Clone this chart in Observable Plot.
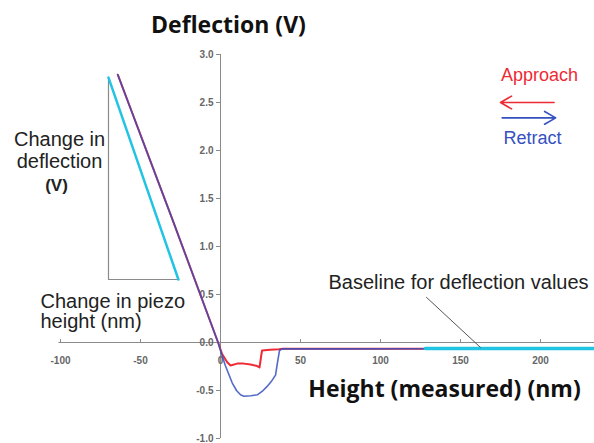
<!DOCTYPE html>
<html>
<head>
<meta charset="utf-8">
<script src="https://cdn.jsdelivr.net/npm/d3@7"></script>
<script src="https://cdn.jsdelivr.net/npm/@observablehq/plot@0.6"></script>
<style>
  html, body { margin: 0; padding: 0; background: #fff; }
  #chart svg { display: block; }
</style>
</head>
<body>
<div id="chart"></div>
<script>
// ---- data ----
const xTicks = [-100, -50, 0, 50, 100, 150, 200];
const xTickLabels = ["-100", "-50", "0", "50", "100", "150", "200"];
const yTicks = [3, 2.5, 2, 1.5, 1, 0.5, 0, -0.5, -1];
const yTickLabels = ["3.0", "2.5", "2.0", "1.5", "1.0", "0.5", "0.0", "-0.5", "-1.0"];

// Approach curve (red)
const approachX = [-64.2, -30, -1.5, 1, 4.2, 6.3, 10.4, 14.6, 18.8, 22.9, 24.4, 25.6, 26, 31, 36.5, 39, 80, 128, 234];
const approachY = [2.79, 1.28, 0, -0.12, -0.205, -0.24, -0.22, -0.22, -0.23, -0.245, -0.26, -0.12, -0.083, -0.076, -0.07, -0.066, -0.066, -0.065, -0.065];

// Retract curve (blue)
const retractX = [-64.2, -30, -1.5, 0, 3, 7.3, 10, 12.5, 14.6, 19, 23, 26, 29, 32, 34.4, 35.8, 36.9, 38.5, 80, 128, 234];
const retractY = [2.79, 1.28, 0, -0.083, -0.24, -0.42, -0.50, -0.545, -0.56, -0.555, -0.545, -0.51, -0.46, -0.40, -0.34, -0.19, -0.083, -0.066, -0.066, -0.065, -0.065];

// Highlighted baseline (cyan)
const baselineX = [128, 234];
const baselineY = [-0.063, -0.063];

// Slope triangle
const triangleX = [-70, -70, -26.3];
const triangleY = [2.76, 0.656, 0.656];
const slopeX = [-70, -26.3];
const slopeY = [2.76, 0.656];

// Pointer to baseline
const pointerX = [128.75, 162.5];
const pointerY = [0.47, -0.052];

const toPts = (xs, ys) => xs.map((x, i) => ({x, y: ys[i]}));
const approach = toPts(approachX, approachY);
const retract = toPts(retractX, retractY);
const baseline = toPts(baselineX, baselineY);
const triangle = toPts(triangleX, triangleY);
const slope = toPts(slopeX, slopeY);
const pointer = toPts(pointerX, pointerY);

const RED = "#ee2a35";
const BLUE = "#3550c0";
const CYAN = "#22c4e4";
const AXIS = "#8a8a8a";
const SANS = "Liberation Sans, Arial, sans-serif";
const BOLD = "Open Sans, sans-serif";

const chart = Plot.plot({
  width: 594,
  height: 443,
  margin: 0,
  x: {domain: [-137.5, 233.75], axis: null},
  y: {domain: [-101 / 96, 342 / 96], axis: null},
  style: {background: "#fff", fontFamily: SANS},
  marks: [
    // axes
    Plot.ruleY([0], {x1: -101, x2: 233.75, stroke: AXIS, strokeWidth: 1}),
    Plot.ruleX([0], {y1: -1.0, y2: 3.0, stroke: AXIS, strokeWidth: 1}),
    Plot.ruleX(xTicks, {x: d => d, y1: 0, y2: 0.03, stroke: AXIS}),
    Plot.ruleY(yTicks, {y: d => d, x1: -2.5, x2: 0, stroke: AXIS}),
    Plot.text(xTicks, {x: d => d, y: 0, dy: 18, text: (d, i) => xTickLabels[i], fontSize: 10, fill: "#666", fontWeight: "bold"}),
    Plot.text(yTicks, {x: 0, y: d => d, dx: -7, text: (d, i) => yTickLabels[i], textAnchor: "end", fontSize: 10, fill: "#666", fontWeight: "bold"}),

    // slope triangle
    Plot.line(triangle, {x: "x", y: "y", stroke: AXIS, strokeWidth: 1.2}),
    Plot.line(slope, {x: "x", y: "y", stroke: CYAN, strokeWidth: 2.5}),

    // curves
    Plot.line(approach, {x: "x", y: "y", stroke: RED, strokeWidth: 2, curve: "linear"}),
    Plot.line(retract, {x: "x", y: "y", stroke: BLUE, strokeWidth: 1.6, strokeOpacity: 0.85, curve: "linear"}),
    Plot.line(baseline, {x: "x", y: "y", stroke: CYAN, strokeWidth: 3.5}),

    // pointer
    Plot.line(pointer, {x: "x", y: "y", stroke: "#555", strokeWidth: 1}),

    // titles
    Plot.text(["Deflection (V)"], {x: 5, y: 3.229, lineAnchor: "bottom", fontSize: 23, fontWeight: "bold", fontFamily: BOLD, fill: "#111"}),
    Plot.text(["Height (measured) (nm)"], {x: 140, y: -0.5625, lineAnchor: "bottom", fontSize: 23, fontWeight: "bold", fontFamily: BOLD, fill: "#111"}),

    // annotations
    Plot.text(["Baseline for deflection values"], {x: 148.75, y: 0.5625, lineAnchor: "bottom", fontSize: 20, fill: "#222"}),
    Plot.text(["Change in\ndeflection"], {x: -100.6, y: 1.817, lineAnchor: "bottom", lineHeight: 1.1, fontSize: 20, fill: "#222"}),
    Plot.text(["(V)"], {x: -102.5, y: 1.583, lineAnchor: "bottom", fontSize: 17, fontWeight: "bold", fill: "#222"}),
    Plot.text(["Change in piezo\nheight (nm)"], {x: -112.5, y: 0.156, lineAnchor: "bottom", textAnchor: "start", lineHeight: 1.0, fontSize: 20, fill: "#222"}),

    // legend
    Plot.text(["Approach"], {x: 199.4, y: 2.729, lineAnchor: "bottom", fontSize: 18, fill: RED}),
    Plot.arrow([{x1: 208.5, x2: 175, y: 2.5}], {x1: "x1", x2: "x2", y1: "y", y2: "y", stroke: RED, strokeWidth: 1.6, headLength: 12}),
    Plot.arrow([{x1: 176, x2: 209.5, y: 2.34}], {x1: "x1", x2: "x2", y1: "y", y2: "y", stroke: BLUE, strokeWidth: 1.6, headLength: 12}),
    Plot.text(["Retract"], {x: 195, y: 2.07, lineAnchor: "bottom", fontSize: 18, fill: BLUE})
  ]
});
document.getElementById("chart").appendChild(chart);
</script>
</body>
</html>
